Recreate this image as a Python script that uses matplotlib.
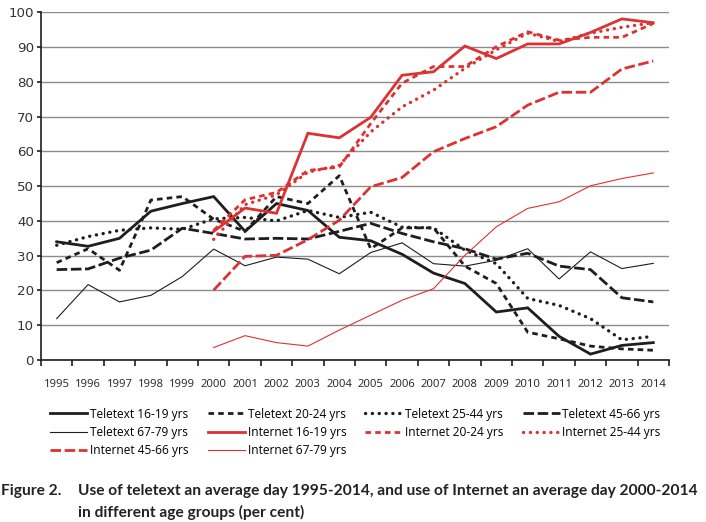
import numpy as np
import matplotlib
matplotlib.use('Agg')
import matplotlib.pyplot as plt

years = [str(y) for y in range(1995, 2015)]
nan = np.nan

# teletext, 1995-2014
tt_16_19 = [34, 32.7, 35, 42.8, 45, 47, 37, 45, 43, 35.3, 34.3, 30.4, 25, 22, 13.8, 15, 6.8, 1.7, 4.2, 5]
tt_20_24 = [28, 32, 25.8, 46, 47, 40.5, 37, 47, 45, 53, 32, 38, 38, 27, 22, 8, 6.1, 4, 3.2, 2.8]
tt_25_44 = [33, 35.5, 37.3, 38, 37.6, 40.6, 41, 40, 43, 41, 42.5, 38.2, 38, 31.6, 27.7, 17.7, 15.7, 11.9, 5.8, 6.8]
tt_45_66 = [26, 26.2, 29.3, 31.6, 37.9, 36.4, 34.8, 35, 34.8, 37, 39.3, 36.4, 34, 32, 29, 30.7, 27, 26, 17.9, 16.7]
tt_67_79 = [11.9, 21.7, 16.7, 18.6, 24, 31.9, 27.1, 29.6, 29, 24.8, 30.9, 33.7, 27.7, 27, 28.7, 32, 23.3, 31.1, 26.3, 27.8]

# internet, 2000-2014
in_16_19 = [nan] * 5 + [37, 43.7, 42.2, 65.2, 63.9, 69.8, 81.9, 82.9, 90.3, 86.7, 90.9, 90.9, 94.2, 98.1, 97]
in_20_24 = [nan] * 5 + [37.3, 46.1, 48.2, 54.5, 55.5, 68, 79.6, 84.4, 84.4, 90.1, 94.4, 92, 92.8, 92.8, 96.8]
in_25_44 = [nan] * 5 + [34.7, 44.7, 47.5, 54, 56, 65.6, 72.8, 77.6, 83.9, 89.2, 94, 91.6, 94, 95.7, 97]
in_45_66 = [nan] * 5 + [20.1, 29.8, 30.1, 34.6, 40.2, 49.8, 52.5, 59.9, 63.7, 67.1, 73.3, 77, 77, 83.7, 86]
in_67_79 = [nan] * 5 + [3.6, 7, 5, 4, 8.6, 12.9, 17.2, 20.5, 30.1, 38.3, 43.6, 45.5, 50.1, 52.2, 53.8]

title1 = 'Use of teletext an average day 1995-2014, and use of Internet an average day 2000-2014'
title2 = 'in different age groups (per cent)'

black = '#1e1e1e'
red = '#dc3232'
thick = 2.0
thin = 0.8
W, H = 706, 522

fig = plt.figure(figsize=(W / 100, H / 100), dpi=100)
renderer = fig.canvas.get_renderer()
ax = fig.add_axes([41 / W, 162 / H, 628 / W, 347.7 / H])


def fit_size(text, target_px, **kw):
    # font size that makes text about target_px wide
    t = fig.text(0, 0, text, size=10, **kw)
    w = t.get_window_extent(renderer).width
    t.remove()
    return 10 * target_px / w


x = np.arange(len(years))

def line(vals, color, lw, dashes=None, label=''):
    l, = ax.plot(x, vals, color=color, lw=lw, label=label,
                 solid_joinstyle='miter', dash_capstyle='butt')
    if dashes is not None:
        l.set_dashes(dashes)
    return l

def dotted(vals, color, label):
    l, = ax.plot(x, vals, color=color, lw=2.4, label=label,
                 dash_capstyle='round')
    l.set_dashes([0.05, 2.0])
    return l

h_t1 = line(tt_16_19, black, thick, label='Teletext 16-19 yrs')
h_t2 = line(tt_20_24, black, thick, [2.0, 1.5], 'Teletext 20-24 yrs')
h_t3 = dotted(tt_25_44, black, 'Teletext 25-44 yrs')
h_t4 = line(tt_45_66, black, thick, [3.8, 1.3], 'Teletext 45-66 yrs')
h_t5 = line(tt_67_79, black, thin, label='Teletext 67-79 yrs')
h_i1 = line(in_16_19, red, thick, label='Internet 16-19 yrs')
h_i2 = line(in_20_24, red, thick, [2.0, 1.5], 'Internet 20-24 yrs')
h_i3 = dotted(in_25_44, red, 'Internet 25-44 yrs')
h_i4 = line(in_45_66, red, thick, [3.8, 1.3], 'Internet 45-66 yrs')
h_i5 = line(in_67_79, red, thin, label='Internet 67-79 yrs')

ax.set_xlim(-0.5, len(years) - 0.5)
ax.set_ylim(0, 100)
ax.set_yticks(range(0, 101, 10))
ax.yaxis.grid(True, color='#8c8c8c', lw=1.0)
ax.set_axisbelow(True)
for s in ['top', 'right']:
    ax.spines[s].set_visible(False)
ax.spines['left'].set_color(black)
ax.spines['bottom'].set_color(black)
ax.spines['left'].set_linewidth(1.2)
ax.spines['bottom'].set_linewidth(1.2)

tick_fs = fit_size('1995', 26, family='Open Sans')
ax.set_xticks(x)
ax.set_xticklabels(years, family='Open Sans', fontsize=tick_fs, color='#222222')
ax.set_xticks(np.arange(-0.5, len(years)), minor=True)
ax.tick_params(axis='x', which='major', length=0, pad=13.5)
ax.tick_params(axis='x', which='minor', length=4.5, width=1.2, color=black)
ax.tick_params(axis='y', length=3, width=1.2, color=black, pad=2,
               labelsize=9.6, labelcolor='#333333')

# legend: 4 columns, 159 px apart, rows 18.7 px apart
# (legend fills column by column, so handles are ordered per column)
leg_fs = fit_size('Teletext 16-19 yrs', 98, family='Open Sans')
px = leg_fs * 100 / 72
text_w = 100
handles = [h_t1, h_t5, h_i4, h_t2, h_i1, h_i5, h_t3, h_i2, h_t4, h_i3]
fig.legend(handles=handles, labels=[h.get_label() for h in handles],
           ncol=4, loc='upper left',
           bbox_to_anchor=(50 / W, 1 - (415 - 0.62 * px) / H),
           frameon=False, borderpad=0, borderaxespad=0,
           handlelength=37 / px, handletextpad=3 / px,
           columnspacing=(159 - 40 - text_w) / px,
           labelspacing=19.3 / px - 1.18,
           prop={'family': 'Open Sans', 'size': leg_fs})

title_fs = fit_size(title1, 621, family='Lato', weight='bold')
tfont = {'family': 'Lato', 'weight': 'bold', 'size': title_fs, 'color': '#222222'}
fig.text(1 / W, 31 / H, 'Figure 2.', va='center', ha='left', **tfont)
fig.text(78 / W, 31 / H, title1, va='center', ha='left', **tfont)
fig.text(78 / W, 10 / H, title2, va='center', ha='left', **tfont)

fig.savefig('out.png', dpi=100)
